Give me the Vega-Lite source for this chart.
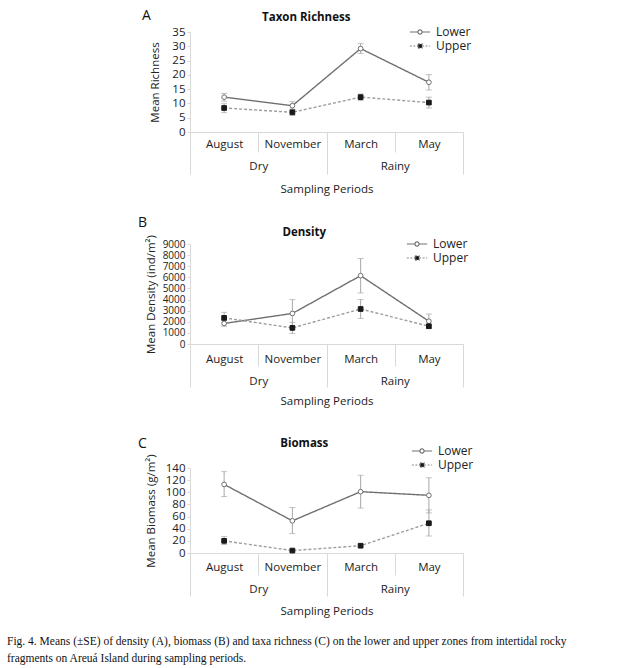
{
  "$schema": "https://vega.github.io/schema/vega-lite/v6.json",
  "padding": {"left": 7, "top": 8, "right": 5, "bottom": 5},
  "background": "white",
  "title": {
    "text": ["Fig. 4. Means (±SE) of density (A), biomass (B) and taxa richness (C) on the lower and upper zones from intertidal rocky", "fragments on Areuá Island during sampling periods."],
    "orient": "bottom", "anchor": "start", "frame": "bounds",
    "font": "Liberation Serif", "fontSize": 11.5, "fontWeight": "normal", "color": "#111",
    "lineHeight": 17, "dx": -131, "offset": 19
  },
  "datasets": {
    "d": [
      {"metric": "richness", "month": "August", "season": "Dry", "zone": "Lower", "mean": 12.2, "lo": 10.8, "hi": 13.5},
      {"metric": "richness", "month": "November", "season": "Dry", "zone": "Lower", "mean": 9.2, "lo": 8.0, "hi": 10.6},
      {"metric": "richness", "month": "March", "season": "Rainy", "zone": "Lower", "mean": 29.2, "lo": 27.5, "hi": 31.0},
      {"metric": "richness", "month": "May", "season": "Rainy", "zone": "Lower", "mean": 17.4, "lo": 14.7, "hi": 20.1},
      {"metric": "richness", "month": "August", "season": "Dry", "zone": "Upper", "mean": 8.4, "lo": 6.8, "hi": 9.9},
      {"metric": "richness", "month": "November", "season": "Dry", "zone": "Upper", "mean": 6.9, "lo": 5.8, "hi": 7.8},
      {"metric": "richness", "month": "March", "season": "Rainy", "zone": "Upper", "mean": 12.2, "lo": 11.0, "hi": 13.3},
      {"metric": "richness", "month": "May", "season": "Rainy", "zone": "Upper", "mean": 10.3, "lo": 8.4, "hi": 12.2},
      {"metric": "density", "month": "August", "season": "Dry", "zone": "Lower", "mean": 1850, "lo": 1600, "hi": 2100},
      {"metric": "density", "month": "November", "season": "Dry", "zone": "Lower", "mean": 2750, "lo": 1500, "hi": 4000},
      {"metric": "density", "month": "March", "season": "Rainy", "zone": "Lower", "mean": 6150, "lo": 4600, "hi": 7700},
      {"metric": "density", "month": "May", "season": "Rainy", "zone": "Lower", "mean": 2050, "lo": 1400, "hi": 2700},
      {"metric": "density", "month": "August", "season": "Dry", "zone": "Upper", "mean": 2350, "lo": 1850, "hi": 2850},
      {"metric": "density", "month": "November", "season": "Dry", "zone": "Upper", "mean": 1450, "lo": 950, "hi": 1950},
      {"metric": "density", "month": "March", "season": "Rainy", "zone": "Upper", "mean": 3150, "lo": 2300, "hi": 4000},
      {"metric": "density", "month": "May", "season": "Rainy", "zone": "Upper", "mean": 1600, "lo": 1450, "hi": 1750},
      {"metric": "biomass", "month": "August", "season": "Dry", "zone": "Lower", "mean": 113, "lo": 93, "hi": 134},
      {"metric": "biomass", "month": "November", "season": "Dry", "zone": "Lower", "mean": 53, "lo": 32, "hi": 75},
      {"metric": "biomass", "month": "March", "season": "Rainy", "zone": "Lower", "mean": 101, "lo": 74, "hi": 128},
      {"metric": "biomass", "month": "May", "season": "Rainy", "zone": "Lower", "mean": 95, "lo": 66, "hi": 124},
      {"metric": "biomass", "month": "August", "season": "Dry", "zone": "Upper", "mean": 20, "lo": 14, "hi": 27},
      {"metric": "biomass", "month": "November", "season": "Dry", "zone": "Upper", "mean": 4, "lo": 3, "hi": 5},
      {"metric": "biomass", "month": "March", "season": "Rainy", "zone": "Upper", "mean": 12, "lo": 10, "hi": 14},
      {"metric": "biomass", "month": "May", "season": "Rainy", "zone": "Upper", "mean": 49, "lo": 28, "hi": 71}
    ]
  },
  "spacing": 21,
  "resolve": {
    "scale": {"shape": "independent", "fill": "independent", "stroke": "independent", "strokeDash": "independent"},
    "legend": {"shape": "independent", "fill": "independent", "stroke": "independent", "strokeDash": "independent"}
  },
  "vconcat": [
    {
      "title": {"text": "A", "anchor": "start", "frame": "bounds", "fontSize": 14, "fontWeight": "normal", "offset": -11, "dx": -7, "color": "#111"},
      "vconcat": [
        {
          "width": 273, "height": 100,
          "title": {"text": "Taxon Richness", "anchor": "middle", "frame": "bounds", "fontSize": 11.5, "fontWeight": "bold", "offset": 3, "color": "#111"},
          "data": {"name": "d"},
          "transform": [{"filter": "datum.metric === 'richness'"}],
          "layer": [
            {
              "encoding": {
                "x": {"field": "month", "type": "nominal", "scale": {"type": "band", "paddingInner": 0, "paddingOuter": 0, "domain": ["August", "November", "March", "May"]},
                  "axis": {"title": null, "orient": "bottom", "tickBand": "extent", "tickSize": 20, "labelBaseline": "middle", "labelPadding": -8, "labelAngle": 0}},
                "y": {"field": "mean", "type": "quantitative", "scale": {"domain": [0, 35], "nice": false}, "axis": {"title": "Mean Richness", "values": [0, 5, 10, 15, 20, 25, 30, 35], "format": "d", "labelOverlap": false, "tickSize": 3, "minExtent": 24, "titlePadding": 6}}
              },
              "layer": [
                {
                  "mark": {"type": "errorbar", "ticks": {"size": 6}, "color": "#a8a8a8", "thickness": 1},
                  "encoding": {
                    "y": {"field": "lo", "type": "quantitative", "title": "Mean Richness"},
                    "y2": {"field": "hi"}
                  }
                },
                {
                  "mark": {"type": "line", "strokeWidth": 1.4},
                  "encoding": {
                    "detail": {"field": "zone", "type": "nominal"},
                    "color": {"condition": {"test": "datum.zone === 'Lower'", "value": "#707070"}, "value": "#9e9e9e"},
                    "strokeDash": {"condition": {"test": "datum.zone === 'Lower'", "value": [1, 0]}, "value": [3, 2]}
                  }
                },
                {
                  "mark": {"type": "point", "filled": true, "size": 22, "strokeWidth": 1, "opacity": 1},
                  "encoding": {
                    "fill": {"condition": {"test": "datum.zone === 'Lower'", "value": "white"}, "value": "#1a1a1a"},
                    "stroke": {"condition": {"test": "datum.zone === 'Lower'", "value": "#707070"}, "value": "#1a1a1a"},
                    "shape": {"condition": {"test": "datum.zone === 'Lower'", "value": "circle"}, "value": "square"}
                  }
                },
                {
                  "transform": [{"filter": "datum.zone === 'none'"}],
                  "mark": {"type": "point", "filled": true, "opacity": 1},
                  "encoding": {
                    "shape": {"field": "zone", "type": "nominal", "scale": {"domain": ["Lower", "Upper"], "range": ["M-1.45,0H-0.3M0.3,0H1.45M0.3,0A0.3,0.3 0 1 1 -0.3,0A0.3,0.3 0 1 1 0.3,0Z", "M-1.45,0H-0.3M0.3,0H1.45M-0.3,-0.3H0.3V0.3H-0.3Z"]},
                      "legend": {"title": null, "orient": "none", "legendX": 222, "legendY": -8, "padding": 0, "rowPadding": -6, "labelFontSize": 12, "labelColor": "#222", "labelOffset": 8, "symbolSize": 196, "symbolStrokeWidth": 1.2}},
                    "fill": {"field": "zone", "type": "nominal", "scale": {"domain": ["Lower", "Upper"], "range": ["white", "#1a1a1a"]},
                      "legend": {"title": null, "orient": "none", "legendX": 222, "legendY": -8, "padding": 0, "rowPadding": -6, "labelFontSize": 12, "labelColor": "#222", "labelOffset": 8, "symbolSize": 196, "symbolStrokeWidth": 1.2}},
                    "stroke": {"field": "zone", "type": "nominal", "scale": {"domain": ["Lower", "Upper"], "range": ["#707070", "#8a8a8a"]},
                      "legend": {"title": null, "orient": "none", "legendX": 222, "legendY": -8, "padding": 0, "rowPadding": -6, "labelFontSize": 12, "labelColor": "#222", "labelOffset": 8, "symbolSize": 196, "symbolStrokeWidth": 1.2}},
                    "strokeDash": {"field": "zone", "type": "nominal", "scale": {"domain": ["Lower", "Upper"], "range": [[1, 0], [2, 1.5]]},
                      "legend": {"title": null, "orient": "none", "legendX": 222, "legendY": -8, "padding": 0, "rowPadding": -6, "labelFontSize": 12, "labelColor": "#222", "labelOffset": 8, "symbolSize": 196, "symbolStrokeWidth": 1.2}}
                  }
                }
              ]
            },
            {
              "mark": {"type": "point", "opacity": 0},
              "encoding": {
                "x": {"field": "season", "type": "nominal", "scale": {"type": "band", "paddingInner": 0, "paddingOuter": 0, "domain": ["Dry", "Rainy"]},
                  "axis": {"title": "Sampling Periods", "orient": "bottom", "tickBand": "extent", "tickSize": 42, "domain": false, "labelBaseline": "middle", "labelPadding": -8, "labelAngle": 0, "titlePadding": 9}}
              }
            }
          ],
          "resolve": {"scale": {"x": "independent"}, "axis": {"x": "independent"}}
        }
      ]
    },
    {
      "title": {"text": "B", "anchor": "start", "frame": "bounds", "fontSize": 14, "fontWeight": "normal", "offset": -3, "dx": -7, "color": "#111"},
      "vconcat": [
        {
          "width": 273, "height": 100,
          "title": {"text": "Density", "anchor": "middle", "frame": "bounds", "fontSize": 11.5, "fontWeight": "bold", "offset": -4, "color": "#111"},
          "data": {"name": "d"},
          "transform": [{"filter": "datum.metric === 'density'"}],
          "layer": [
            {
              "encoding": {
                "x": {"field": "month", "type": "nominal", "scale": {"type": "band", "paddingInner": 0, "paddingOuter": 0, "domain": ["August", "November", "March", "May"]},
                  "axis": {"title": null, "orient": "bottom", "tickBand": "extent", "tickSize": 22, "labelBaseline": "middle", "labelPadding": -7, "labelAngle": 0}},
                "y": {"field": "mean", "type": "quantitative", "scale": {"domain": [0, 9000], "nice": false}, "axis": {"title": "Mean Density (ind/m²)", "values": [0, 1000, 2000, 3000, 4000, 5000, 6000, 7000, 8000, 9000], "format": "d", "labelOverlap": false, "labelFontSize": 10, "tickSize": 3, "minExtent": 28, "titlePadding": 6}}
              },
              "layer": [
                {
                  "mark": {"type": "errorbar", "ticks": {"size": 6}, "color": "#a8a8a8", "thickness": 1},
                  "encoding": {
                    "y": {"field": "lo", "type": "quantitative", "title": "Mean Density (ind/m²)"},
                    "y2": {"field": "hi"}
                  }
                },
                {
                  "mark": {"type": "line", "strokeWidth": 1.4},
                  "encoding": {
                    "detail": {"field": "zone", "type": "nominal"},
                    "color": {"condition": {"test": "datum.zone === 'Lower'", "value": "#707070"}, "value": "#9e9e9e"},
                    "strokeDash": {"condition": {"test": "datum.zone === 'Lower'", "value": [1, 0]}, "value": [3, 2]}
                  }
                },
                {
                  "mark": {"type": "point", "filled": true, "size": 22, "strokeWidth": 1, "opacity": 1},
                  "encoding": {
                    "fill": {"condition": {"test": "datum.zone === 'Lower'", "value": "white"}, "value": "#1a1a1a"},
                    "stroke": {"condition": {"test": "datum.zone === 'Lower'", "value": "#707070"}, "value": "#1a1a1a"},
                    "shape": {"condition": {"test": "datum.zone === 'Lower'", "value": "circle"}, "value": "square"}
                  }
                },
                {
                  "transform": [{"filter": "datum.zone === 'none'"}],
                  "mark": {"type": "point", "filled": true, "opacity": 1},
                  "encoding": {
                    "shape": {"field": "zone", "type": "nominal", "scale": {"domain": ["Lower", "Upper"], "range": ["M-1.45,0H-0.3M0.3,0H1.45M0.3,0A0.3,0.3 0 1 1 -0.3,0A0.3,0.3 0 1 1 0.3,0Z", "M-1.45,0H-0.3M0.3,0H1.45M-0.3,-0.3H0.3V0.3H-0.3Z"]},
                      "legend": {"title": null, "orient": "none", "legendX": 219, "legendY": -8, "padding": 0, "rowPadding": -6, "labelFontSize": 12, "labelColor": "#222", "labelOffset": 8, "symbolSize": 196, "symbolStrokeWidth": 1.2}},
                    "fill": {"field": "zone", "type": "nominal", "scale": {"domain": ["Lower", "Upper"], "range": ["white", "#1a1a1a"]},
                      "legend": {"title": null, "orient": "none", "legendX": 219, "legendY": -8, "padding": 0, "rowPadding": -6, "labelFontSize": 12, "labelColor": "#222", "labelOffset": 8, "symbolSize": 196, "symbolStrokeWidth": 1.2}},
                    "stroke": {"field": "zone", "type": "nominal", "scale": {"domain": ["Lower", "Upper"], "range": ["#707070", "#8a8a8a"]},
                      "legend": {"title": null, "orient": "none", "legendX": 219, "legendY": -8, "padding": 0, "rowPadding": -6, "labelFontSize": 12, "labelColor": "#222", "labelOffset": 8, "symbolSize": 196, "symbolStrokeWidth": 1.2}},
                    "strokeDash": {"field": "zone", "type": "nominal", "scale": {"domain": ["Lower", "Upper"], "range": [[1, 0], [2, 1.5]]},
                      "legend": {"title": null, "orient": "none", "legendX": 219, "legendY": -8, "padding": 0, "rowPadding": -6, "labelFontSize": 12, "labelColor": "#222", "labelOffset": 8, "symbolSize": 196, "symbolStrokeWidth": 1.2}}
                  }
                }
              ]
            },
            {
              "mark": {"type": "point", "opacity": 0},
              "encoding": {
                "x": {"field": "season", "type": "nominal", "scale": {"type": "band", "paddingInner": 0, "paddingOuter": 0, "domain": ["Dry", "Rainy"]},
                  "axis": {"title": ["Sampling Periods", " "], "titleLineHeight": 9, "orient": "bottom", "tickBand": "extent", "tickSize": 43, "domain": false, "labelBaseline": "middle", "labelPadding": -6, "labelAngle": 0, "titlePadding": 8}}
              }
            }
          ],
          "resolve": {"scale": {"x": "independent"}, "axis": {"x": "independent"}}
        }
      ]
    },
    {
      "title": {"text": "C", "anchor": "start", "frame": "bounds", "fontSize": 14, "fontWeight": "normal", "offset": -13, "dx": -7, "color": "#111"},
      "vconcat": [
        {
          "width": 273, "height": 85,
          "title": {"text": "Biomass", "anchor": "middle", "frame": "bounds", "fontSize": 11.5, "fontWeight": "bold", "offset": 4, "color": "#111"},
          "data": {"name": "d"},
          "transform": [{"filter": "datum.metric === 'biomass'"}],
          "layer": [
            {
              "encoding": {
                "x": {"field": "month", "type": "nominal", "scale": {"type": "band", "paddingInner": 0, "paddingOuter": 0, "domain": ["August", "November", "March", "May"]},
                  "axis": {"title": null, "orient": "bottom", "tickBand": "extent", "tickSize": 22, "labelBaseline": "middle", "labelPadding": -8, "labelAngle": 0}},
                "y": {"field": "mean", "type": "quantitative", "scale": {"domain": [0, 140], "nice": false}, "axis": {"title": "Mean Biomass (g/m²)", "values": [0, 20, 40, 60, 80, 100, 120, 140], "format": "d", "labelOverlap": false, "tickSize": 3, "minExtent": 28, "titlePadding": 6}}
              },
              "layer": [
                {
                  "mark": {"type": "errorbar", "ticks": {"size": 6}, "color": "#a8a8a8", "thickness": 1},
                  "encoding": {
                    "y": {"field": "lo", "type": "quantitative", "title": "Mean Biomass (g/m²)"},
                    "y2": {"field": "hi"}
                  }
                },
                {
                  "mark": {"type": "line", "strokeWidth": 1.4},
                  "encoding": {
                    "detail": {"field": "zone", "type": "nominal"},
                    "color": {"condition": {"test": "datum.zone === 'Lower'", "value": "#707070"}, "value": "#9e9e9e"},
                    "strokeDash": {"condition": {"test": "datum.zone === 'Lower'", "value": [1, 0]}, "value": [3, 2]}
                  }
                },
                {
                  "mark": {"type": "point", "filled": true, "size": 22, "strokeWidth": 1, "opacity": 1},
                  "encoding": {
                    "fill": {"condition": {"test": "datum.zone === 'Lower'", "value": "white"}, "value": "#1a1a1a"},
                    "stroke": {"condition": {"test": "datum.zone === 'Lower'", "value": "#707070"}, "value": "#1a1a1a"},
                    "shape": {"condition": {"test": "datum.zone === 'Lower'", "value": "circle"}, "value": "square"}
                  }
                },
                {
                  "transform": [{"filter": "datum.zone === 'none'"}],
                  "mark": {"type": "point", "filled": true, "opacity": 1},
                  "encoding": {
                    "shape": {"field": "zone", "type": "nominal", "scale": {"domain": ["Lower", "Upper"], "range": ["M-1.45,0H-0.3M0.3,0H1.45M0.3,0A0.3,0.3 0 1 1 -0.3,0A0.3,0.3 0 1 1 0.3,0Z", "M-1.45,0H-0.3M0.3,0H1.45M-0.3,-0.3H0.3V0.3H-0.3Z"]},
                      "legend": {"title": null, "orient": "none", "legendX": 224, "legendY": -25, "padding": 0, "rowPadding": -6, "labelFontSize": 12, "labelColor": "#222", "labelOffset": 8, "symbolSize": 196, "symbolStrokeWidth": 1.2}},
                    "fill": {"field": "zone", "type": "nominal", "scale": {"domain": ["Lower", "Upper"], "range": ["white", "#1a1a1a"]},
                      "legend": {"title": null, "orient": "none", "legendX": 224, "legendY": -25, "padding": 0, "rowPadding": -6, "labelFontSize": 12, "labelColor": "#222", "labelOffset": 8, "symbolSize": 196, "symbolStrokeWidth": 1.2}},
                    "stroke": {"field": "zone", "type": "nominal", "scale": {"domain": ["Lower", "Upper"], "range": ["#707070", "#8a8a8a"]},
                      "legend": {"title": null, "orient": "none", "legendX": 224, "legendY": -25, "padding": 0, "rowPadding": -6, "labelFontSize": 12, "labelColor": "#222", "labelOffset": 8, "symbolSize": 196, "symbolStrokeWidth": 1.2}},
                    "strokeDash": {"field": "zone", "type": "nominal", "scale": {"domain": ["Lower", "Upper"], "range": [[1, 0], [2, 1.5]]},
                      "legend": {"title": null, "orient": "none", "legendX": 224, "legendY": -25, "padding": 0, "rowPadding": -6, "labelFontSize": 12, "labelColor": "#222", "labelOffset": 8, "symbolSize": 196, "symbolStrokeWidth": 1.2}}
                  }
                }
              ]
            },
            {
              "mark": {"type": "point", "opacity": 0},
              "encoding": {
                "x": {"field": "season", "type": "nominal", "scale": {"type": "band", "paddingInner": 0, "paddingOuter": 0, "domain": ["Dry", "Rainy"]},
                  "axis": {"title": "Sampling Periods", "orient": "bottom", "tickBand": "extent", "tickSize": 43, "domain": false, "labelBaseline": "middle", "labelPadding": -7, "labelAngle": 0, "titlePadding": 9}}
              }
            }
          ],
          "resolve": {"scale": {"x": "independent"}, "axis": {"x": "independent"}}
        }
      ]
    }
  ],
  "config": {
    "font": "Open Sans",
    "view": {"stroke": null},
    "axis": {"grid": false, "domainColor": "#d9d9d9", "tickColor": "#d9d9d9", "labelColor": "#222", "titleColor": "#222", "labelFontSize": 11.5, "titleFontSize": 11.5, "titleFontWeight": "normal", "labelFont": "Open Sans", "titleFont": "Open Sans"},
    "legend": {"labelFont": "Open Sans"}
  }
}
